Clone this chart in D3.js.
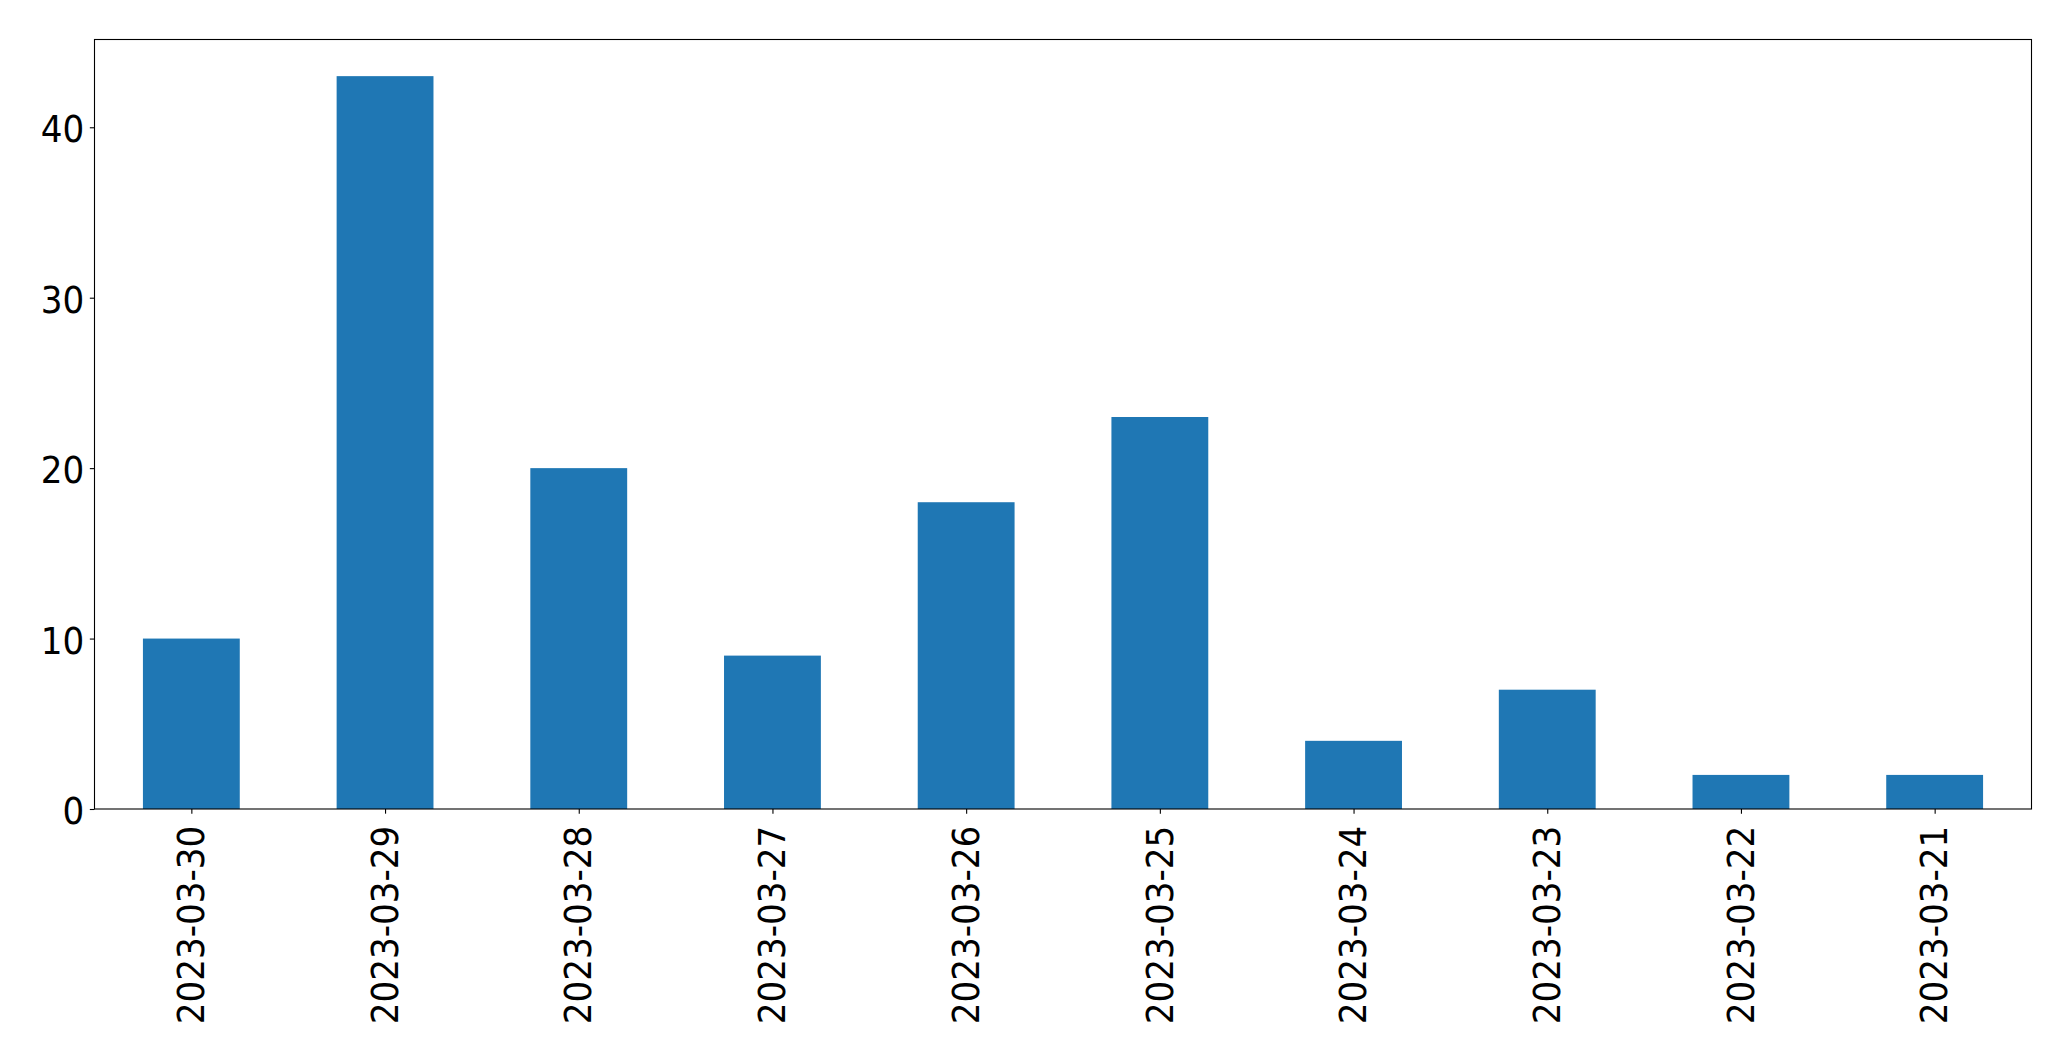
<!DOCTYPE html>
<html><head><meta charset="utf-8">
<script src="https://cdn.jsdelivr.net/npm/d3@7"></script>
<style>html,body{margin:0;padding:0;background:#fff;}svg{display:block;}</style>
</head><body>
<script>
const categories = ["2023-03-30","2023-03-29","2023-03-28","2023-03-27","2023-03-26","2023-03-25","2023-03-24","2023-03-23","2023-03-22","2023-03-21"];
const values = [10, 43, 20, 9, 18, 23, 4, 7, 2, 2];
const yTicks = [0, 10, 20, 30, 40];

const W = 2071, H = 1061;
const mLeft = 94.5, mRight = 2031.5, mTop = 39.5, mBottom = 809;
const fs = 38, tickLen = 4.67;
const fontFam = "'DejaVu Sans Condensed', 'DejaVu Sans', sans-serif";

const svg = d3.select("body").append("svg").attr("width", W).attr("height", H);

const x = d3.scaleLinear().domain([-0.5, categories.length - 0.5]).range([mLeft, mRight]);
const y = d3.scaleLinear().domain([0, d3.max(values) * 1.05]).range([mBottom, mTop]);
const bw = x(0.25) - x(-0.25);

svg.append("g").selectAll("rect").data(values).join("rect")
  .attr("x", (d, i) => x(i) - bw / 2)
  .attr("y", d => y(d))
  .attr("width", bw)
  .attr("height", d => y(0) - y(d))
  .attr("fill", "#1f77b4");

// frame
svg.append("rect").attr("x", mLeft).attr("y", mTop).attr("width", mRight - mLeft).attr("height", mBottom - mTop)
  .attr("fill", "none").attr("stroke", "#000").attr("stroke-width", 1.1);

// y axis
const yAxis = svg.append("g").attr("transform", `translate(${mLeft},0)`)
  .call(d3.axisLeft(y).tickValues(yTicks).tickSize(tickLen).tickPadding(5.5).tickFormat(d3.format("d")));
yAxis.select(".domain").remove();
yAxis.selectAll("line").attr("stroke", "#000").attr("stroke-width", 1.1);
yAxis.selectAll("text").attr("font-family", fontFam).attr("font-stretch", "condensed")
  .attr("font-size", fs).attr("fill", "#000").attr("dy", "0.38em");

// x axis
const xAxis = svg.append("g").attr("transform", `translate(0,${mBottom})`)
  .call(d3.axisBottom(x).tickValues(d3.range(categories.length)).tickSize(tickLen).tickFormat(i => categories[i]));
xAxis.select(".domain").remove();
xAxis.selectAll("line").attr("stroke", "#000").attr("stroke-width", 1.1);
xAxis.selectAll("text")
  .attr("font-family", fontFam).attr("font-stretch", "condensed")
  .attr("font-size", fs).attr("fill", "#000")
  .attr("text-anchor", "end")
  .attr("transform", `translate(0,16.7) rotate(-90)`)
  .attr("x", 0).attr("y", 0).attr("dy", "0.32em");
</script>
</body></html>
